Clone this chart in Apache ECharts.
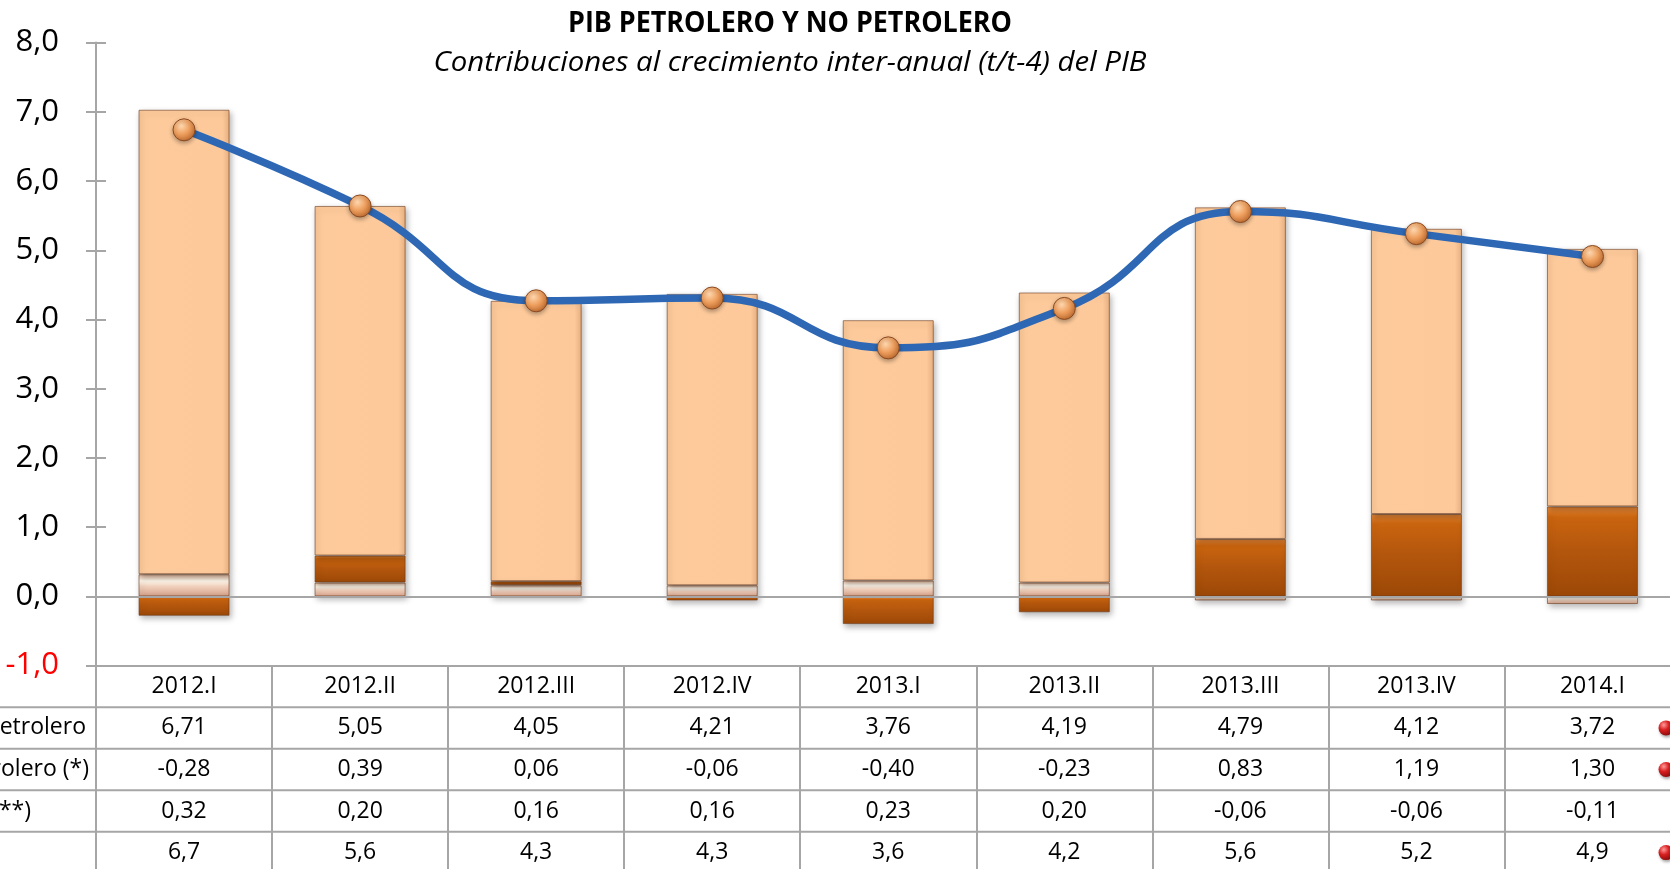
<!DOCTYPE html>
<html>
<head>
<meta charset="utf-8">
<title>PIB petrolero y no petrolero</title>
<script src="https://cdn.jsdelivr.net/npm/echarts@6/dist/echarts.min.js"></script>
<style>
html, body { margin: 0; padding: 0; background: #fff; overflow: hidden; }
/* the source picture is cropped on the right, so the chart is a bit wider than the window */
#chart { width: 1690px; height: 869px; }
</style>
</head>
<body>
<div id="chart"></div>
<script>
// data
const categories = ["2012.I", "2012.II", "2012.III", "2012.IV", "2013.I", "2013.II", "2013.III", "2013.IV", "2014.I"];
const noPetrolero = [6.71, 5.05, 4.05, 4.21, 3.76, 4.19, 4.79, 4.12, 3.72];
const petrolero = [-0.28, 0.39, 0.06, -0.06, -0.40, -0.23, 0.83, 1.19, 1.30];
const otros = [0.32, 0.20, 0.16, 0.16, 0.23, 0.20, -0.06, -0.06, -0.11];
const pibTotal = [6.74, 5.64, 4.27, 4.31, 3.59, 4.16, 5.56, 5.24, 4.91];
const rowLabels = ["PIB No Petrolero", "PIB Petrolero (*)", "Otros (**)", "PIB"];
const yMin = -1, yMax = 8, yStep = 1;

const FONT = '"Open Sans", "Noto Sans", sans-serif';
const GRID_COLOR = "#A6A6A6";
const rowH = 41.55;
const tableTop = 665.6;
// right ends of the (cut) row labels
const labelEnds = [86, 89, 31, -10];

const fmt = (v, d) => v.toFixed(d).replace(".", ",");

const chart = echarts.init(document.getElementById("chart"));

// canvas measuring, used for the title squeeze
const ctx = document.createElement("canvas").getContext("2d");
function textWidth(str, font) {
    ctx.font = font;
    return ctx.measureText(str).width;
}

const tableRows = [
    { values: noPetrolero, digits: 2 },
    { values: petrolero, digits: 2 },
    { values: otros, digits: 2 },
    { values: pibTotal, digits: 1 },
];

// one hidden category axis per table row, only its labels are shown
const rowAxes = tableRows.map((row, i) => ({
    type: "category",
    data: categories,
    position: "bottom",
    axisLine: { show: false, onZero: false },
    axisTick: { show: false },
    axisLabel: {
        interval: 0,
        margin: rowH * (i + 1.5),
        verticalAlign: "middle",
        fontSize: 23,
        fontFamily: FONT,
        color: "#000",
        formatter: (v, idx) => fmt(row.values[idx], row.digits),
    },
}));

const barShadow = {
    borderColor: "rgba(110,60,30,0.6)",
    borderWidth: 1,
    shadowBlur: 6,
    shadowOffsetX: 2,
    shadowOffsetY: 3,
    shadowColor: "rgba(0,0,0,0.3)",
};

const labelFont = '23px "Open Sans"';
const titleFont = 'bold 29px "Open Sans"';
const subFont = 'italic 28px "Open Sans"';
const titleText = "PIB PETROLERO Y NO PETROLERO";
const subText = "Contribuciones al crecimiento inter-anual (t/t-4) del PIB";

const graphics = [
    {
        type: "text", x: 790, y: 24,
        scaleX: 444 / textWidth(titleText, titleFont),
        style: { text: titleText, font: titleFont, fill: "#000", textAlign: "center", textVerticalAlign: "middle" },
    },
    {
        type: "text", x: 790, y: 63,
        scaleX: 713 / textWidth(subText, subFont),
        style: { text: subText, font: subFont, fill: "#000", textAlign: "center", textVerticalAlign: "middle" },
    },
];

// horizontal table rules
for (let k = 1; k <= 4; k++) {
    graphics.push({
        type: "line",
        shape: { x1: 0, y1: tableTop + rowH * k, x2: 1690, y2: tableTop + rowH * k },
        style: { stroke: GRID_COLOR, lineWidth: 2 },
    });
}

// row labels, cut by the left edge as in the source
rowLabels.forEach((lab, i) => {
    graphics.push({
        type: "text", x: labelEnds[i], y: tableTop + rowH * (i + 1.5),
        style: { text: lab, font: labelFont, fill: "#000", textAlign: "right", textVerticalAlign: "middle" },
    });
});

// red legend balls at the right edge (rows 1, 2 and 4)
[0, 1, 3].forEach((i) => {
    graphics.push({
        type: "circle",
        shape: { cx: 1666, cy: tableTop + rowH * (i + 1.5), r: 7.5 },
        style: {
            fill: new echarts.graphic.RadialGradient(0.35, 0.3, 0.75, [
                { offset: 0, color: "#FF9A9A" },
                { offset: 0.45, color: "#D92020" },
                { offset: 1, color: "#8A0A0A" },
            ]),
            shadowBlur: 3, shadowOffsetX: 1, shadowOffsetY: 2, shadowColor: "rgba(0,0,0,0.35)",
        },
    });
});

chart.setOption({
    animation: false,
    backgroundColor: "#fff",
    grid: { left: 96, right: 9.5, top: 42.6, bottom: 869 - tableTop },
    xAxis: [
        {
            // zero line
            type: "category",
            data: categories,
            z: 3,
            axisLine: { onZero: true, lineStyle: { color: GRID_COLOR, width: 2 } },
            axisTick: { show: false },
            axisLabel: { show: false },
        },
        {
            // table header row and column rules
            type: "category",
            data: categories,
            position: "bottom",
            axisLine: { onZero: false, lineStyle: { color: GRID_COLOR, width: 2 } },
            axisTick: { show: true, length: 220, lineStyle: { color: GRID_COLOR, width: 2 } },
            axisLabel: {
                interval: 0,
                margin: rowH * 0.5,
                verticalAlign: "middle",
                fontSize: 23,
                fontFamily: FONT,
                color: "#000",
            },
        },
        ...rowAxes,
    ],
    yAxis: [
        {
            type: "value",
            min: yMin, max: yMax, interval: yStep,
            axisLine: { show: true, lineStyle: { color: GRID_COLOR, width: 2 } },
            axisTick: { show: true, length: 10, lineStyle: { color: GRID_COLOR, width: 2 } },
            splitLine: { show: false },
            axisLabel: {
                margin: 37,
                fontSize: 31,
                fontFamily: FONT,
                color: (v) => (Number(v) < 0 ? "#FF0000" : "#000"),
                formatter: (v) => fmt(v, 1),
            },
        },
        {
            // inner half of the crossing ticks
            type: "value",
            min: yMin, max: yMax, interval: yStep,
            position: "left",
            axisLine: { show: false },
            axisTick: { show: true, inside: true, length: 10, lineStyle: { color: GRID_COLOR, width: 2 } },
            axisLabel: { show: false },
            splitLine: { show: false },
        },
    ],
    series: [
        {
            name: "Otros (**)",
            type: "bar",
            stack: "pib",
            barWidth: "51.7%",
            data: otros,
            itemStyle: Object.assign({
                color: new echarts.graphic.LinearGradient(0, 0, 0, 1, [
                    { offset: 0, color: "#EFC2A6" },
                    { offset: 0.3, color: "#FFF8EC" },
                    { offset: 0.55, color: "#F0D0BC" },
                    { offset: 1, color: "#D5A088" },
                ]),
            }, barShadow),
        },
        {
            name: "PIB Petrolero (*)",
            type: "bar",
            stack: "pib",
            data: petrolero,
            itemStyle: Object.assign({
                color: new echarts.graphic.LinearGradient(0, 0, 0, 1, [
                    { offset: 0, color: "#F4913C" },
                    { offset: 0.12, color: "#C9640F" },
                    { offset: 0.5, color: "#B3560D" },
                    { offset: 1, color: "#9C4807" },
                ]),
            }, barShadow),
        },
        {
            name: "PIB No Petrolero",
            type: "bar",
            stack: "pib",
            data: noPetrolero,
            itemStyle: Object.assign({
                // soft bevel on the sides
                color: new echarts.graphic.LinearGradient(0, 0, 1, 0, [
                    { offset: 0, color: "#F6C292" },
                    { offset: 0.07, color: "#FDCA9B" },
                    { offset: 0.92, color: "#FDC99A" },
                    { offset: 1, color: "#E9B283" },
                ]),
            }, barShadow),
        },
        {
            name: "PIB",
            type: "line",
            data: pibTotal,
            z: 5,
            smooth: 0.5,
            symbol: "circle",
            symbolSize: 22,
            lineStyle: { color: "#2E68B4", width: 7.5 },
            itemStyle: {
                color: new echarts.graphic.RadialGradient(0.38, 0.32, 0.75, [
                    { offset: 0, color: "#FFD8B0" },
                    { offset: 0.5, color: "#EE9F5E" },
                    { offset: 1, color: "#B8652A" },
                ]),
                borderColor: "#8A4A22",
                borderWidth: 1,
                shadowBlur: 4,
                shadowOffsetY: 2,
                shadowColor: "rgba(0,0,0,0.3)",
            },
        },
    ],
    graphic: graphics,
});
</script>
</body>
</html>
